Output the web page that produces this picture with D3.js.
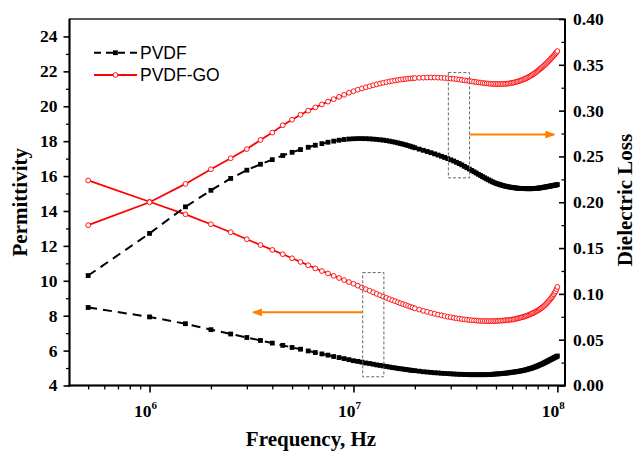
<!DOCTYPE html>
<html>
<head>
<meta charset="utf-8">
<script src="https://cdn.jsdelivr.net/npm/d3@7"></script>
<style>
  body { margin: 0; background: #fff; }
  svg { display: block; }
  .tick-label { font-family: "Liberation Serif", "Times New Roman", serif; font-weight: bold; font-size: 17.5px; }
  .title { font-family: "Liberation Serif", "Times New Roman", serif; font-weight: bold; font-size: 21px; }
  .legend { font-family: "Liberation Sans", Arial, sans-serif; font-size: 17.5px; }
</style>
</head>
<body>
<div id="chart"></div>
<script>
// frequency grid, MHz
const freqMHz = [0.5, 1, 1.5, 2, 2.5, 3, 3.5, 4, 4.5, 5, 5.5, 6, 6.5, 7, 7.5, 8, 8.5, 9, 9.5, 10,
  10.5, 11, 11.5, 12, 12.5, 13, 13.5, 14, 14.5, 15, 15.5, 16, 16.5, 17, 17.5, 18, 18.5, 19, 19.5, 20,
  21, 22, 23, 24, 25, 26, 27, 28, 29, 30, 31, 32, 33, 34, 35, 36, 37, 38, 39, 40,
  41, 42, 43, 44, 45, 46, 47, 48, 49, 50, 51, 52, 53, 54, 55, 56, 57, 58, 59, 60,
  61, 62, 63, 64, 65, 66, 67, 68, 69, 70, 71, 72, 73, 74, 75, 76, 77, 78, 79, 80,
  81, 82, 83, 84, 85, 86, 87, 88, 89, 90, 91, 92, 93, 94, 95, 96, 97, 98, 99, 100];

// permittivity (left axis)
const permPVDF = [8.47, 7.93, 7.54, 7.20, 6.95, 6.75, 6.58, 6.43, 6.30, 6.18, 6.08, 5.98, 5.89, 5.81, 5.74, 5.66, 5.60, 5.54, 5.48, 5.42,
  5.38, 5.34, 5.29, 5.26, 5.22, 5.18, 5.15, 5.12, 5.09, 5.06, 5.03, 5.01, 4.98, 4.96, 4.94, 4.92, 4.90, 4.88, 4.86, 4.85,
  4.82, 4.79, 4.77, 4.75, 4.73, 4.72, 4.70, 4.69, 4.68, 4.67, 4.66, 4.65, 4.64, 4.64, 4.63, 4.63, 4.62, 4.62, 4.62, 4.62,
  4.62, 4.62, 4.62, 4.62, 4.62, 4.63, 4.63, 4.64, 4.65, 4.66, 4.67, 4.67, 4.68, 4.69, 4.70, 4.71, 4.72, 4.73, 4.74, 4.76,
  4.77, 4.78, 4.79, 4.80, 4.82, 4.83, 4.85, 4.86, 4.88, 4.90, 4.92, 4.94, 4.96, 4.98, 5.00, 5.02, 5.05, 5.07, 5.10, 5.12,
  5.15, 5.18, 5.20, 5.23, 5.26, 5.29, 5.32, 5.35, 5.38, 5.41, 5.44, 5.47, 5.50, 5.52, 5.55, 5.58, 5.61, 5.63, 5.66, 5.69];

const permGO = [15.75, 14.53, 13.81, 13.24, 12.78, 12.38, 12.05, 11.77, 11.52, 11.29, 11.08, 10.89, 10.71, 10.56, 10.42, 10.28, 10.16, 10.04, 9.93, 9.83,
  9.72, 9.62, 9.52, 9.43, 9.34, 9.25, 9.17, 9.09, 9.02, 8.95, 8.89, 8.83, 8.77, 8.71, 8.66, 8.61, 8.56, 8.51, 8.47, 8.42,
  8.35, 8.28, 8.22, 8.16, 8.11, 8.06, 8.02, 7.98, 7.94, 7.91, 7.88, 7.85, 7.83, 7.81, 7.79, 7.77, 7.75, 7.74, 7.73, 7.72,
  7.71, 7.70, 7.70, 7.69, 7.69, 7.69, 7.69, 7.69, 7.69, 7.70, 7.70, 7.71, 7.71, 7.72, 7.73, 7.74, 7.75, 7.76, 7.77, 7.78,
  7.79, 7.81, 7.83, 7.85, 7.87, 7.89, 7.91, 7.93, 7.95, 7.98, 8.00, 8.03, 8.06, 8.09, 8.12, 8.15, 8.18, 8.22, 8.25, 8.29,
  8.33, 8.37, 8.41, 8.46, 8.51, 8.56, 8.61, 8.67, 8.73, 8.79, 8.85, 8.92, 8.99, 9.06, 9.14, 9.22, 9.31, 9.40, 9.52, 9.65];

// dielectric loss (right axis)
const lossPVDF = [0.120, 0.166, 0.195, 0.213, 0.226, 0.235, 0.2415, 0.2465, 0.2510, 0.2545, 0.2575, 0.2600, 0.2622, 0.2640, 0.2655, 0.2667, 0.2677, 0.2685, 0.2690, 0.2693,
  0.2695, 0.2695, 0.2694, 0.2692, 0.2689, 0.2686, 0.2682, 0.2678, 0.2673, 0.2667, 0.2661, 0.2655, 0.2648, 0.2641, 0.2634, 0.2627, 0.2619, 0.2611, 0.2603, 0.2595,
  0.2580, 0.2567, 0.2554, 0.2541, 0.2528, 0.2515, 0.2502, 0.2489, 0.2476, 0.2463, 0.2450, 0.2436, 0.2422, 0.2408, 0.2392, 0.2377, 0.2362, 0.2347, 0.2333, 0.2319,
  0.2305, 0.2292, 0.2279, 0.2267, 0.2255, 0.2244, 0.2233, 0.2223, 0.2214, 0.2206, 0.2200, 0.2194, 0.2188, 0.2183, 0.2178, 0.2174, 0.2170, 0.2167, 0.2164, 0.2161,
  0.2159, 0.2157, 0.2155, 0.2153, 0.2152, 0.2151, 0.2150, 0.2149, 0.2149, 0.2148, 0.2148, 0.2148, 0.2148, 0.2148, 0.2148, 0.2149, 0.2150, 0.2151, 0.2152, 0.2153,
  0.2155, 0.2156, 0.2158, 0.2160, 0.2162, 0.2164, 0.2166, 0.2168, 0.2170, 0.2172, 0.2174, 0.2176, 0.2178, 0.2180, 0.2182, 0.2184, 0.2186, 0.2188, 0.2190, 0.2193];

const lossGO = [0.175, 0.200, 0.220, 0.236, 0.248, 0.258, 0.268, 0.276, 0.284, 0.290, 0.2955, 0.3000, 0.3035, 0.3068, 0.3098, 0.3125, 0.3150, 0.3172, 0.3195, 0.3212,
  0.3228, 0.3242, 0.3255, 0.3266, 0.3277, 0.3287, 0.3296, 0.3304, 0.3311, 0.3318, 0.3324, 0.3329, 0.3334, 0.3338, 0.3342, 0.3345, 0.3348, 0.3351, 0.3353, 0.3355,
  0.3358, 0.3360, 0.3361, 0.3361, 0.3361, 0.3360, 0.3358, 0.3356, 0.3353, 0.3350, 0.3347, 0.3343, 0.3339, 0.3335, 0.3331, 0.3327, 0.3323, 0.3319, 0.3315, 0.3312,
  0.3308, 0.3305, 0.3302, 0.3299, 0.3297, 0.3295, 0.3293, 0.3292, 0.3291, 0.3290, 0.3290, 0.3290, 0.3290, 0.3291, 0.3292, 0.3293, 0.3295, 0.3297, 0.3300, 0.3303,
  0.3306, 0.3310, 0.3314, 0.3318, 0.3323, 0.3328, 0.3333, 0.3339, 0.3345, 0.3351, 0.3358, 0.3365, 0.3372, 0.3380, 0.3388, 0.3396, 0.3405, 0.3414, 0.3423, 0.3432,
  0.3442, 0.3452, 0.3462, 0.3472, 0.3482, 0.3492, 0.3502, 0.3512, 0.3523, 0.3534, 0.3545, 0.3556, 0.3567, 0.3578, 0.3589, 0.3600, 0.3612, 0.3624, 0.3636, 0.3650];

// axis ticks
const xMajor = [1e6, 1e7, 1e8];
const xMajorExp = ['6', '7', '8'];
const xMinor = [5e5, 6e5, 7e5, 8e5, 9e5, 2e6, 3e6, 4e6, 5e6, 6e6, 7e6, 8e6, 9e6, 2e7, 3e7, 4e7, 5e7, 6e7, 7e7, 8e7, 9e7];
const leftMajor = [4, 6, 8, 10, 12, 14, 16, 18, 20, 22, 24];
const leftMinor = [5, 7, 9, 11, 13, 15, 17, 19, 21, 23];
const rightMajor = [0, 0.05, 0.10, 0.15, 0.20, 0.25, 0.30, 0.35, 0.40];
const rightMinor = [0.025, 0.075, 0.125, 0.175, 0.225, 0.275, 0.325, 0.375];

// annotation boxes [fMHz0, fMHz1, perm0, perm1] and arrows [fMHz from, fMHz to, perm]
const boxes = [[29.2, 37.1, 15.9, 21.93], [11.1, 14.1, 4.5, 10.47]];
const arrows = [[37.1, 96.7, 18.38], [11.1, 3.22, 8.19]];

const width = 636, height = 453;
const margin = { top: 19, right: 71, bottom: 67.5, left: 69.5 };
const plot = {
  left: margin.left,
  right: width - margin.right,
  top: margin.top,
  bottom: height - margin.bottom,
};

const svg = d3.select('#chart').append('svg')
  .attr('width', width).attr('height', height);

const xScale = d3.scaleLog().domain([4.05e5, 1.09e8]).range([plot.left, plot.right]);
const yLeft = d3.scaleLinear().domain([4, 25]).range([plot.bottom, plot.top]);
const yRight = d3.scaleLinear().domain([0, 0.40]).range([plot.bottom, plot.top]);

// frame
svg.append('rect')
  .attr('x', plot.left).attr('y', plot.top)
  .attr('width', plot.right - plot.left).attr('height', plot.bottom - plot.top)
  .attr('fill', 'none').attr('stroke', '#000').attr('stroke-width', 1.3);

const data = freqMHz.map((f, i) => ({
  f: f * 1e6,
  permPVDF: permPVDF[i], permGO: permGO[i],
  lossPVDF: lossPVDF[i], lossGO: lossGO[i],
}));

function drawSeries(key, yScale, color, dashed, marker) {
  const line = d3.line().x(d => xScale(d.f)).y(d => yScale(d[key]));
  svg.append('path').datum(data)
    .attr('d', line)
    .attr('fill', 'none')
    .attr('stroke', color)
    .attr('stroke-width', dashed ? 2 : 1.8)
    .attr('stroke-dasharray', dashed ? '9,6' : null);
  const g = svg.append('g');
  if (marker === 'square') {
    g.selectAll('rect').data(data).join('rect')
      .attr('x', d => xScale(d.f) - 2.4)
      .attr('y', d => yScale(d[key]) - 2.4)
      .attr('width', 4.8).attr('height', 4.8)
      .attr('fill', color);
  } else {
    g.selectAll('circle').data(data).join('circle')
      .attr('cx', d => xScale(d.f))
      .attr('cy', d => yScale(d[key]))
      .attr('r', 2.4)
      .attr('fill', '#fff')
      .attr('stroke', color)
      .attr('stroke-width', 0.9);
  }
}

drawSeries('permGO', yLeft, '#ff0000', false, 'circle');
drawSeries('lossGO', yRight, '#ff0000', false, 'circle');
drawSeries('permPVDF', yLeft, '#000', true, 'square');
drawSeries('lossPVDF', yRight, '#000', true, 'square');

// dashed boxes
svg.append('g').selectAll('rect').data(boxes).join('rect')
  .attr('x', d => xScale(d[0] * 1e6))
  .attr('y', d => yLeft(d[3]))
  .attr('width', d => xScale(d[1] * 1e6) - xScale(d[0] * 1e6))
  .attr('height', d => yLeft(d[2]) - yLeft(d[3]))
  .attr('fill', 'none').attr('stroke', '#666').attr('stroke-width', 1)
  .attr('stroke-dasharray', '3,2');

// orange arrows
svg.append('defs').append('marker')
  .attr('id', 'head').attr('viewBox', '0 0 10 8')
  .attr('refX', 9).attr('refY', 4)
  .attr('markerWidth', 10).attr('markerHeight', 8)
  .attr('markerUnits', 'userSpaceOnUse').attr('orient', 'auto')
  .append('path').attr('d', 'M0,0L10,4L0,8Z').attr('fill', '#ff8000');

svg.append('g').selectAll('line').data(arrows).join('line')
  .attr('x1', d => xScale(d[0] * 1e6)).attr('x2', d => xScale(d[1] * 1e6))
  .attr('y1', d => yLeft(d[2])).attr('y2', d => yLeft(d[2]))
  .attr('stroke', '#ff8000').attr('stroke-width', 2)
  .attr('marker-end', 'url(#head)');

// axes
function styleAxis(g, width) {
  g.select('.domain').remove();
  g.selectAll('.tick line').attr('stroke', '#000').attr('stroke-width', width);
  g.selectAll('.tick text').remove();
}

svg.append('g').attr('transform', `translate(0,${plot.bottom})`)
  .call(d3.axisBottom(xScale).tickValues(xMajor).tickSizeOuter(0).tickSize(7))
  .call(g => styleAxis(g, 1.6));
svg.append('g').attr('transform', `translate(0,${plot.bottom})`)
  .call(d3.axisBottom(xScale).tickValues(xMinor).tickSizeOuter(0).tickSize(4))
  .call(g => styleAxis(g, 1.3));

svg.append('g').attr('transform', `translate(${plot.left},0)`)
  .call(d3.axisLeft(yLeft).tickValues(leftMajor).tickSizeOuter(0).tickSize(6))
  .call(g => styleAxis(g, 1.6));
svg.append('g').attr('transform', `translate(${plot.left},0)`)
  .call(d3.axisLeft(yLeft).tickValues(leftMinor).tickSizeOuter(0).tickSize(3.5))
  .call(g => styleAxis(g, 1.3));

svg.append('g').attr('transform', `translate(${plot.right},0)`)
  .call(d3.axisRight(yRight).tickValues(rightMajor).tickSizeOuter(0).tickSize(-6))
  .call(g => styleAxis(g, 1.6));
svg.append('g').attr('transform', `translate(${plot.right},0)`)
  .call(d3.axisRight(yRight).tickValues(rightMinor).tickSizeOuter(0).tickSize(-3.5))
  .call(g => styleAxis(g, 1.3));

// heavier axis lines
svg.append('line').attr('x1', plot.left).attr('x2', plot.left)
  .attr('y1', plot.top).attr('y2', plot.bottom + 1)
  .attr('stroke', '#000').attr('stroke-width', 2);
svg.append('line').attr('x1', plot.left - 1).attr('x2', plot.right + 1)
  .attr('y1', plot.bottom).attr('y2', plot.bottom)
  .attr('stroke', '#000').attr('stroke-width', 2);
svg.append('line').attr('x1', plot.right).attr('x2', plot.right)
  .attr('y1', plot.top).attr('y2', plot.bottom)
  .attr('stroke', '#000').attr('stroke-width', 2);

// tick labels
svg.append('g').selectAll('text').data(leftMajor).join('text')
  .attr('class', 'tick-label')
  .attr('x', plot.left - 12).attr('y', d => yLeft(d)).attr('dy', '0.34em')
  .attr('text-anchor', 'end').text(d => d);

svg.append('g').selectAll('text').data(rightMajor).join('text')
  .attr('class', 'tick-label')
  .attr('x', plot.right + 8).attr('y', d => yRight(d)).attr('dy', '0.34em')
  .attr('text-anchor', 'start').text(d => d3.format('.2f')(d));

const xl = svg.append('g').selectAll('text').data(xMajor).join('text')
  .attr('class', 'tick-label')
  .attr('x', d => xScale(d) - 4).attr('y', plot.bottom + 31)
  .attr('text-anchor', 'middle');
xl.append('tspan').text('10');
xl.append('tspan').attr('dy', -8).attr('font-size', 11).text((d, i) => xMajorExp[i]);

// titles
svg.append('text').attr('class', 'title')
  .attr('x', 311).attr('y', 446).attr('text-anchor', 'middle')
  .text('Frequency, Hz');
svg.append('text').attr('class', 'title')
  .attr('transform', `translate(26.5,${(plot.top + plot.bottom) / 2}) rotate(-90)`)
  .attr('text-anchor', 'middle').text('Permittivity');
svg.append('text').attr('class', 'title')
  .attr('transform', `translate(632,200) rotate(-90)`)
  .attr('text-anchor', 'middle').text('Dielectric Loss');

// legend
const legend = svg.append('g').attr('transform', 'translate(94,0)');
legend.append('line').attr('x1', 0).attr('x2', 43).attr('y1', 52.7).attr('y2', 52.7)
  .attr('stroke', '#000').attr('stroke-width', 2).attr('stroke-dasharray', '7,5');
legend.append('rect').attr('x', 19).attr('y', 50.3).attr('width', 4.8).attr('height', 4.8).attr('fill', '#000');
legend.append('text').attr('class', 'legend').attr('x', 46).attr('y', 52.7).attr('dy', '0.36em').text('PVDF');
legend.append('line').attr('x1', 0).attr('x2', 43).attr('y1', 75).attr('y2', 75)
  .attr('stroke', '#ff0000').attr('stroke-width', 1.8);
legend.append('circle').attr('cx', 21.5).attr('cy', 75).attr('r', 2.4)
  .attr('fill', '#fff').attr('stroke', '#ff0000').attr('stroke-width', 0.9);
legend.append('text').attr('class', 'legend').attr('x', 46).attr('y', 75).attr('dy', '0.36em').text('PVDF-GO');
</script>
</body>
</html>
